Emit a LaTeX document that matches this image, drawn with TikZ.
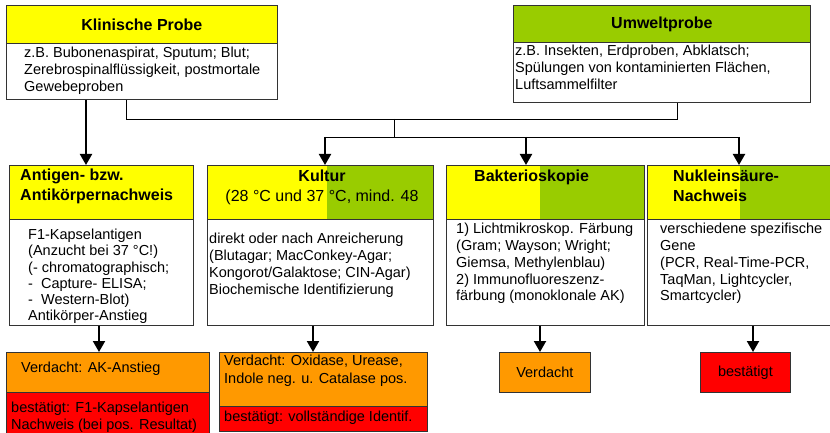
\documentclass[tikz,border=0pt]{standalone}
\usepackage{fontspec}
\setmainfont{Liberation Sans}
\usetikzlibrary{arrows.meta}

\definecolor{gelb}{HTML}{FFFF00}
\definecolor{gruen}{HTML}{99CC00}
\definecolor{verdacht}{HTML}{FF9900}
\definecolor{bestaetigt}{HTML}{FF0000}

\newcommand{\txtfont}{\fontsize{14.5}{16.8}\selectfont}
\newcommand{\kopffont}{\fontsize{16}{20.5}\selectfont\bfseries}

\tikzset{
  kasten/.style={draw=black!80, line width=0.8pt, anchor=north west, inner sep=0pt},
  zweifarbig/.style={fill=gelb, path picture={\fill[gruen] ([xshift=#1]path picture bounding box.north west) rectangle (path picture bounding box.south east);}},
  txt/.style={anchor=north west, inner sep=0pt, align=left, font=\txtfont},
  kopf/.style={anchor=north west, inner sep=0pt, align=left, font=\kopffont},
  duenn/.style={line width=0.9pt},
  pfeil/.style={line width=2pt, -{Triangle[width=12pt,length=11pt]}}
}

\begin{document}
\begin{tikzpicture}[x=1pt, y=-1pt]
\useasboundingbox (0,0) rectangle (830,433);

% Proben
\node[kasten, fill=gelb, minimum width=271, minimum height=38, font=\kopffont] (H1) at (6,5) {Klinische Probe};
\node[kasten, fill=white, minimum width=271, minimum height=56] (B1) at (6,43) {};
\node[txt] (T1) at (24,47) {z.B. Bubonenaspirat, Sputum; Blut;\\Zerebrospinalflüssigkeit, postmortale\\Gewebeproben};

\node[kasten, fill=gruen, minimum width=297, minimum height=37, font=\kopffont] (H2) at (513,5) {Umweltprobe};
\node[kasten, fill=white, minimum width=297, minimum height=60] (B2) at (513,42) {};
\node[txt] (T2) at (515,45) {z.B. Insekten, Erdproben, Abklatsch;\\Spülungen von kontaminierten Flächen,\\Luftsammelfilter};

% Nachweisverfahren
\node[kasten, fill=gelb, minimum width=184, minimum height=54] (H3) at (9,165) {};
\node[kopf] (T3) at (20,168.6) {Antigen- bzw.\\Antikörpernachweis};
\node[kasten, fill=white, minimum width=184, minimum height=106] (B3) at (9,219) {};
\node[txt, font=\fontsize{14.5}{16.2}\selectfont] (T7) at (28,229) {F1-Kapselantigen\\(Anzucht bei 37 °C!)\\(- chromatographisch;\\- \ Capture- ELISA;\\- \ Western-Blot)\\Antikörper-Anstieg};

\node[kasten, zweifarbig=120pt, minimum width=226, minimum height=54] (H4) at (207,165) {};
\node[kopf, anchor=north, align=center, font=\fontsize{16}{20}\selectfont] (T4) at (322,169.5) {\textbf{Kultur}\\(28 °C und 37 °C, mind. 48};
\node[kasten, fill=white, minimum width=226, minimum height=106] (B4) at (207,219) {};
\node[txt] (T8) at (209,233) {direkt oder nach Anreicherung\\(Blutagar; MacConkey-Agar;\\Kongorot/Galaktose; CIN-Agar)\\Biochemische Identifizierung};

\node[kasten, zweifarbig=94pt, minimum width=198, minimum height=54] (H5) at (446,165) {};
\node[kopf] (T5) at (474,169.5) {Bakterioskopie};
\node[kasten, fill=white, minimum width=198, minimum height=106] (B5) at (446,219) {};
\node[txt] (T9) at (456,223) {1) Lichtmikroskop. Färbung\\(Gram; Wayson; Wright;\\Giemsa, Methylenblau)\\2) Immunofluoreszenz-\\färbung (monoklonale AK)};

\node[kasten, zweifarbig=93pt, minimum width=185, minimum height=54] (H6) at (647,165) {};
\node[kopf, font=\fontsize{16}{20}\selectfont\bfseries] (T6) at (673,169.5) {Nukleinsäure-\\Nachweis};
\node[kasten, fill=white, minimum width=185, minimum height=106] (B6) at (647,219) {};
\node[txt] (T10) at (660,223) {verschiedene spezifische\\Gene\\(PCR, Real-Time-PCR,\\TaqMan, Lightcycler,\\Smartcycler)};

% Resultate
\node[kasten, fill=verdacht, minimum width=203, minimum height=40] (V1) at (6,352) {};
\node[txt] (T11) at (21,362) {Verdacht: AK-Anstieg};
\node[kasten, fill=bestaetigt, minimum width=203, minimum height=44] (R1) at (6,392) {};
\node[txt, font=\fontsize{14.5}{17}\selectfont] (T12) at (11,402) {bestätigt: F1-Kapselantigen\\Nachweis (bei pos. Resultat)};

\node[kasten, fill=verdacht, minimum width=208, minimum height=54] (V2) at (219,352) {};
\node[txt, font=\fontsize{14.5}{18}\selectfont] (T13) at (224,355) {Verdacht: Oxidase, Urease,\\Indole neg. u. Catalase pos.};
\node[kasten, fill=bestaetigt, minimum width=208, minimum height=25] (R2) at (219,406) {};
\node[txt] (T14) at (224,411) {bestätigt: vollständige Identif.};

\node[kasten, fill=verdacht, minimum width=91, minimum height=40, font=\txtfont] (V3) at (499,352) {Verdacht};
\node[kasten, fill=bestaetigt, minimum width=90, minimum height=40, font=\txtfont] (R3) at (700,352) {bestätigt};

% Verbindungen
\coordinate (P1) at (86,0);
\coordinate (P2) at (126,119);
\coordinate (P3) at (677,119);
\coordinate (P4) at (394,119);
\coordinate (P5) at (394,137);
\coordinate (Q1) at (325,137);
\coordinate (Q2) at (526,137);
\coordinate (Q3) at (739,137);

\draw[pfeil] (B1.south -| P1) -- (H3.north -| P1);
\draw[duenn] (B1.south -| P2) -- (P2) -- (P3) -- (B2.south -| P3);
\draw[duenn] (P4) -- (P5);
\draw[duenn] (Q1) -- (Q3);
\draw[pfeil] (Q1) -- (H4.north -| Q1);
\draw[pfeil] (Q2) -- (H5.north -| Q2);
\draw[pfeil] (Q3) -- (H6.north -| Q3);

\coordinate (S1) at (99,0);
\coordinate (S2) at (313,0);
\coordinate (S3) at (540,0);
\coordinate (S4) at (753,0);

\draw[pfeil] (B3.south -| S1) -- (V1.north -| S1);
\draw[pfeil] (B4.south -| S2) -- (V2.north -| S2);
\draw[pfeil] (B5.south -| S3) -- (V3.north -| S3);
\draw[pfeil] (B6.south -| S4) -- (R3.north -| S4);

\end{tikzpicture}
\end{document}
